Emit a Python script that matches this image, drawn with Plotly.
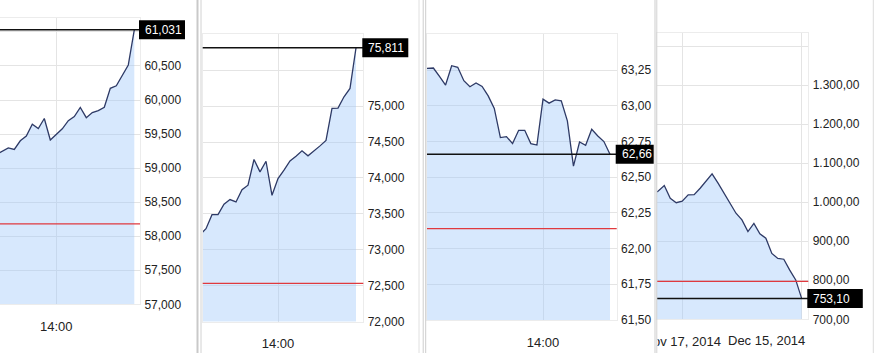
import plotly.graph_objects as go

W, H = 876, 353
DAY = "2014-12-15"

# ---------------- data ----------------
usd_times = ["12:20", "12:30", "12:40", "12:50", "13:00", "13:10", "13:20", "13:30",
             "13:40", "13:50", "14:00", "14:10", "14:20", "14:30", "14:40", "14:50",
             "15:00", "15:10", "15:20", "15:30", "15:40", "15:50", "16:00", "16:10"]
usd_values = [59.200, 59.242, 59.296, 59.274, 59.401, 59.472, 59.643, 59.582,
              59.729, 59.413, 59.499, 59.577, 59.697, 59.756, 59.891, 59.741,
              59.815, 59.844, 59.893, 60.172, 60.209, 60.356, 60.515, 61.031]
usd_prev_close = 58.18
usd_last_label = "61,031"
usd_ytick_vals = [57.0, 57.5, 58.0, 58.5, 59.0, 59.5, 60.0, 60.5, 61.0]
usd_ytick_text = ["57,000", "57,500", "58,000", "58,500", "59,000", "59,500",
                  "60,000", "60,500", ""]

eur_times = ["11:50", "12:00", "12:10", "12:20", "12:30", "12:40", "12:50", "13:00",
             "13:10", "13:20", "13:30", "13:40", "13:50", "14:00", "14:10", "14:20",
             "14:30", "14:40", "14:50", "15:00", "15:10", "15:20", "15:30", "15:40",
             "15:50", "16:00", "16:10"]
eur_values = [73.207, 73.293, 73.488, 73.488, 73.633, 73.698, 73.665, 73.837,
              73.898, 74.256, 74.084, 74.232, 73.758, 73.991, 74.107, 74.237,
              74.302, 74.377, 74.307, 74.372, 74.446, 74.521, 74.967, 74.972,
              75.130, 75.246, 75.811]
eur_prev_close = 72.53
eur_last_label = "75,811"
eur_ytick_vals = [72.0, 72.5, 73.0, 73.5, 74.0, 74.5, 75.0, 75.5, 76.0]
eur_ytick_text = ["72,000", "72,500", "73,000", "73,500", "74,000", "74,500",
                  "75,000", "", ""]

brent_times = ["10:40", "10:50", "11:00", "11:10", "11:20", "11:30", "11:40", "11:50",
               "12:00", "12:10", "12:20", "12:30", "12:40", "12:50", "13:00", "13:10",
               "13:20", "13:30", "13:40", "13:50", "14:00", "14:10", "14:20", "14:30",
               "14:40", "14:50", "15:00", "15:10", "15:20", "15:30", "15:40", "15:50"]
brent_values = [63.260, 63.264, 63.264, 63.206, 63.145, 63.280, 63.269, 63.175,
                63.133, 63.159, 63.135, 63.069, 62.981, 62.777, 62.784, 62.735,
                62.828, 62.828, 62.735, 62.725, 63.046, 63.018, 63.041, 63.034,
                62.894, 62.577, 62.746, 62.723, 62.835, 62.788, 62.749, 62.660]
brent_prev_close = 62.14
brent_last_label = "62,66"
brent_ytick_vals = [61.5, 61.75, 62.0, 62.25, 62.5, 62.75, 63.0, 63.25, 63.5]
brent_ytick_text = ["61,50", "61,75", "62,00", "62,25", "62,50", "62,75",
                    "63,00", "63,25", ""]

rts_dates = ["2014-11-10", "2014-11-11", "2014-11-12", "2014-11-13", "2014-11-14",
             "2014-11-17", "2014-11-18", "2014-11-19", "2014-11-20", "2014-11-21",
             "2014-11-24", "2014-11-25", "2014-11-26", "2014-11-27", "2014-11-28",
             "2014-12-01", "2014-12-02", "2014-12-03", "2014-12-04", "2014-12-05",
             "2014-12-08", "2014-12-09", "2014-12-10", "2014-12-11", "2014-12-12",
             "2014-12-15"]
rts_values = [1020.0, 1029.0, 1043.0, 1010.0, 999.0,
              1003.0, 1019.0, 1019.5, 1036.0, 1055.0,
              1073.0, 1049.0, 1023.0, 999.0, 972.0,
              955.0, 925.0, 946.0, 919.0, 908.0,
              869.0, 856.0, 854.0, 826.0, 801.0,
              753.10]
rts_prev_close = 797.0
rts_last_label = "753,10"
rts_ytick_vals = [700, 800, 900, 1000, 1100, 1200, 1300, 1400]
rts_ytick_text = ["700,00", "800,00", "900,00", "1.000,00", "1.100,00",
                  "1.200,00", "1.300,00", ""]

intraday_xtick_vals = ["14:00"]
intraday_xtick_text = ["14:00"]
rts_xtick_vals = ["2014-11-17", "2014-12-15"]
rts_xtick_text = ["Nov 17, 2014", "Dec 15, 2014"]

# ---------------- styling / layout ----------------
FONT = "Liberation Sans, Arial, sans-serif"
TXT = "#222222"
GRID = "#e4e4e4"
BORDER = "#ececec"
LINE = "#2e3a66"
FILL = "rgba(160,200,250,0.42)"
RED = "#e0393e"


def ts(t):
    return f"{DAY} {t}"


panels = [
    dict(x=[ts(t) for t in usd_times], y=usd_values, prev=usd_prev_close, label=usd_last_label,
         yv=usd_ytick_vals, yt=usd_ytick_text,
         xv=[ts(t) for t in intraday_xtick_vals], xt=intraday_xtick_text,
         px=(0, 140), py=(18.3, 304.3), xr=[ts("12:26:10"), ts("16:19:30")],
         yr=[57.0, 61.2], box_w=46),
    dict(x=[ts(t) for t in eur_times], y=eur_values, prev=eur_prev_close, label=eur_last_label,
         yv=eur_ytick_vals, yt=eur_ytick_text,
         xv=[ts(t) for t in intraday_xtick_vals], xt=intraday_xtick_text,
         px=(202.7, 363.3), py=(34.3, 321.5), xr=[ts("11:54:30"), ts("16:22:10")],
         yr=[72.0, 76.0], box_w=46),
    dict(x=[ts(t) for t in brent_times], y=brent_values, prev=brent_prev_close, label=brent_last_label,
         yv=brent_ytick_vals, yt=brent_ytick_text,
         xv=[ts(t) for t in intraday_xtick_vals], xt=intraday_xtick_text,
         px=(427, 616.7), py=(34.3, 320), xr=[ts("10:49:30"), ts("16:01:00")],
         yr=[61.5, 63.5], box_w=38),
    dict(x=rts_dates, y=rts_values, prev=rts_prev_close, label=rts_last_label,
         yv=rts_ytick_vals, yt=rts_ytick_text,
         xv=rts_xtick_vals, xt=[rts_xtick_text[0], ""],
         px=(657, 808.3), py=(33, 319.3), xr=["2014-11-10 18:45", "2014-12-16 02:30"],
         yr=[700, 1434], box_w=55.5, weekly=True),
]

fig = go.Figure()
shapes = []
annotations = []
layout = dict(template="none", width=W, height=H, margin=dict(l=0, r=0, t=0, b=0, pad=0),
              autosize=False, paper_bgcolor="white", plot_bgcolor="white", showlegend=False,
              separators=",.", font=dict(family=FONT, color=TXT, size=12),
              hovermode=False)

for i, p in enumerate(panels, start=1):
    sfx = "" if i == 1 else str(i)
    xname, yname = "x" + sfx, "y" + sfx
    fig.add_trace(go.Scatter(x=p["x"], y=p["y"], mode="lines", xaxis=xname, yaxis=yname,
                             line=dict(color=LINE, width=1.3), fill="tozeroy",
                             fillcolor=FILL, hoverinfo="skip"))
    xa = dict(domain=[p["px"][0] / W, p["px"][1] / W], range=p["xr"], anchor=yname,
              type="date", tickmode="array", tickvals=p["xv"], ticktext=p["xt"],
              showgrid=True, gridcolor=GRID, gridwidth=1, zeroline=False,
              showline=True, mirror=True, linecolor=BORDER, linewidth=1,
              ticks="", tickfont=dict(family=FONT, size=13, color=TXT),
              ticklabelstandoff=10, automargin=False, fixedrange=True)
    if p.get("weekly"):
        xa["rangebreaks"] = [dict(bounds=["sat", "mon"])]
    ya = dict(domain=[1 - p["py"][1] / H, 1 - p["py"][0] / H], range=p["yr"], anchor=xname,
              side="right", tickmode="array", tickvals=p["yv"], ticktext=p["yt"],
              showgrid=True, gridcolor=GRID, gridwidth=1, zeroline=False,
              showline=True, mirror=True, linecolor=BORDER, linewidth=1,
              ticks="", tickfont=dict(family=FONT, size=12, color=TXT),
              ticklabelstandoff=1, automargin=False, fixedrange=True)
    layout["xaxis" + sfx] = xa
    layout["yaxis" + sfx] = ya

    # previous close (red) and last value (black) lines
    shapes.append(dict(type="line", xref=f"{xname} domain", x0=0, x1=1, yref=yname,
                       y0=p["prev"], y1=p["prev"], line=dict(color=RED, width=1.3),
                       layer="above"))
    last = p["y"][-1]
    shapes.append(dict(type="line", xref=f"{xname} domain", x0=0, x1=1, yref=yname,
                       y0=last, y1=last, line=dict(color="#111111", width=1.5),
                       layer="above"))
    shapes.append(dict(type="rect", xref=f"{xname} domain", xsizemode="pixel", xanchor=1,
                       x0=-1, x1=p["box_w"] - 1, yref=yname, ysizemode="pixel",
                       yanchor=last, y0=-9.5, y1=9.5, fillcolor="black",
                       line=dict(width=0), layer="above"))
    annotations.append(dict(text=p["label"], xref=f"{xname} domain", x=1, xanchor="left",
                            xshift=3, yref=yname, y=last, yanchor="middle",
                            showarrow=False, font=dict(family=FONT, size=12, color="white")))

# Dec 15 label of last panel is pushed left inside the widget
annotations.append(dict(text=rts_xtick_text[1], xref="x4", x=rts_xtick_vals[1],
                        xanchor="right", xshift=5, yref="paper", y=1 - 340.5 / H,
                        yanchor="middle", showarrow=False,
                        font=dict(family=FONT, size=13, color=TXT)))

# white cover clipping the first date label at the widget edge
shapes.append(dict(type="rect", xref="paper", yref="paper", x0=628 / W, x1=657.5 / W,
                   y0=0, y1=(H - 328) / H, fillcolor="white", line=dict(width=0),
                   layer="above"))

# widget separators
for xpx, col, wd in [(197.5, "#c9c9c9", 2), (201, "#d2d2d2", 1),
                     (419, "#e0e0e0", 1), (423.2, "#cdcdcd", 1), (425.7, "#cdcdcd", 1),
                     (655, "#cdcdcd", 1), (656.8, "#d2d2d2", 1),
                     (873.3, "#dcdcdc", 1)]:
    shapes.append(dict(type="line", xref="paper", yref="paper", x0=xpx / W, x1=xpx / W,
                       y0=0, y1=1, line=dict(color=col, width=wd), layer="above"))

layout["shapes"] = shapes
layout["annotations"] = annotations
fig.update_layout(**layout)
fig.write_html("out.html", config={"displayModeBar": False, "staticPlot": True})
